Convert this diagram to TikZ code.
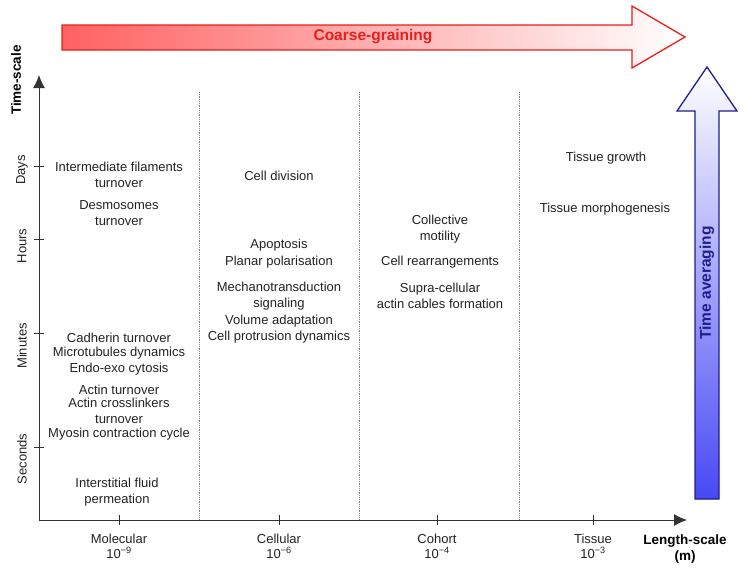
\documentclass[tikz,border=0pt]{standalone}
\usepackage{fontspec}
\setmainfont{Liberation Sans}
\usetikzlibrary{arrows.meta}
\usetikzlibrary{positioning}
\definecolor{txtgray}{HTML}{222222}
\definecolor{axisgray}{HTML}{333333}
\definecolor{coarsered}{HTML}{E3201E}
\definecolor{avgblue}{HTML}{1E1E8C}
\definecolor{avgfill}{RGB}{72,72,245}
\tikzstyle{proc} = [align=center, 
inner sep=0pt, 
text=txtgray, 
font=\fontsize{13}{15.5}\selectfont]
\tikzstyle{scale_lbl} = [align=center, 
inner sep=0pt, 
text=txtgray, 
font=\fontsize{13}{15}\selectfont]
\tikzstyle{axis_lbl} = [align=center, 
inner sep=0pt, 
text=black, 
font=\bfseries\fontsize{13.5}{16}\selectfont]
\tikzstyle{big_lbl} = [inner sep=0pt, 
font=\bfseries\fontsize{15.5}{18}\selectfont]
\tikzstyle{axis} = [draw=axisgray, line width=1pt, -{Latex[length=13pt,width=12pt]}]
\tikzstyle{tick} = [draw=axisgray, line width=1pt]
\tikzstyle{sep} = [draw=gray, densely dotted, line width=0.8pt]

\begin{document}
\begin{tikzpicture}[x=1pt, y=-1pt]
\useasboundingbox (0,0) rectangle (746,568);

% block arrows
\path [draw=coarsered, line width=1.3pt, left color=red!62, right color=white]
 (62,25) -- (632,25) -- (632,6) -- (685,37) -- (632,68) -- (632,50) -- (62,50) -- cycle;
\node [big_lbl, text=coarsered] (cg) at (373,37) {Coarse-graining};
\path [draw=avgblue, line width=1.3pt, bottom color=avgfill, middle color=blue!14, top color=white]
 (695,499) -- (695,111) -- (677,111) -- (707,67) -- (737,111) -- (719,111) -- (719,499) -- cycle;
\node [big_lbl, text=avgblue, rotate=90] (ta) at (707,283) {Time averaging};

% axes
\coordinate (o) at (39,520);
\coordinate (ytop) at (39,75);
\coordinate (xend) at (687,520);
\path [axis] (o) -- (ytop);
\path [axis] (o) -- (xend);
\node [axis_lbl, rotate=90] (ts) at (16,80) {Time-scale};
\node [axis_lbl] (ls) at (685,549) {Length-scale\\(m)};

% time ticks
\foreach \y/\ty/\lbl in {166/170/Days, 239/246/Hours, 333/346/Minutes, 447/459/Seconds}{
 \path [tick] (34,\y) -- (44,\y);
 \node [scale_lbl, rotate=90] at (22,\ty) {\lbl};
}

% length ticks
\foreach \x/\lbl/\ex in {119/Molecular/9, 279/Cellular/6, 437/Cohort/4, 593/Tissue/3}{
 \path [tick] (\x,515) -- (\x,525);
 \node [scale_lbl] at (\x,546) {\lbl\\10\textsuperscript{−\ex}};
}

% column separators
\foreach \x in {199,359,519}
 \path [sep] (\x,92) -- (\x,520);

% molecular
\node [proc] (m1) at (119,175) {Intermediate filaments\\turnover};
\node [proc] (m2) at (119,213) {Desmosomes\\turnover};
\node [proc] (m3) at (119,338) {Cadherin turnover};
\node [proc] (m4) at (119,353) {Microtubules dynamics};
\node [proc] (m5) at (119,369) {Endo-exo cytosis};
\node [proc] (m6) at (119,390) {Actin turnover};
\node [proc] (m7) at (119,411) {Actin crosslinkers\\turnover};
\node [proc] (m8) at (119,434) {Myosin contraction cycle};
\node [proc] (m9) at (117,492) {Interstitial fluid\\permeation};

% cellular
\node [proc] (c1) at (279,176) {Cell division};
\node [proc] (c2) at (279,245) {Apoptosis};
\node [proc] (c3) at (279,262) {Planar polarisation};
\node [proc] (c4) at (279,296) {Mechanotransduction\\signaling};
\node [proc] (c5) at (279,321) {Volume adaptation};
\node [proc] (c6) at (279,337) {Cell protrusion dynamics};

% cohort
\node [proc] (h1) at (440,229) {Collective\\motility};
\node [proc] (h2) at (440,262) {Cell rearrangements};
\node [proc] (h3) at (440,296) {Supra-cellular\\actin cables formation};

% tissue
\node [proc] (t1) at (606,158) {Tissue growth};
\node [proc] (t2) at (605,209) {Tissue morphogenesis};

\end{tikzpicture}
\end{document}
